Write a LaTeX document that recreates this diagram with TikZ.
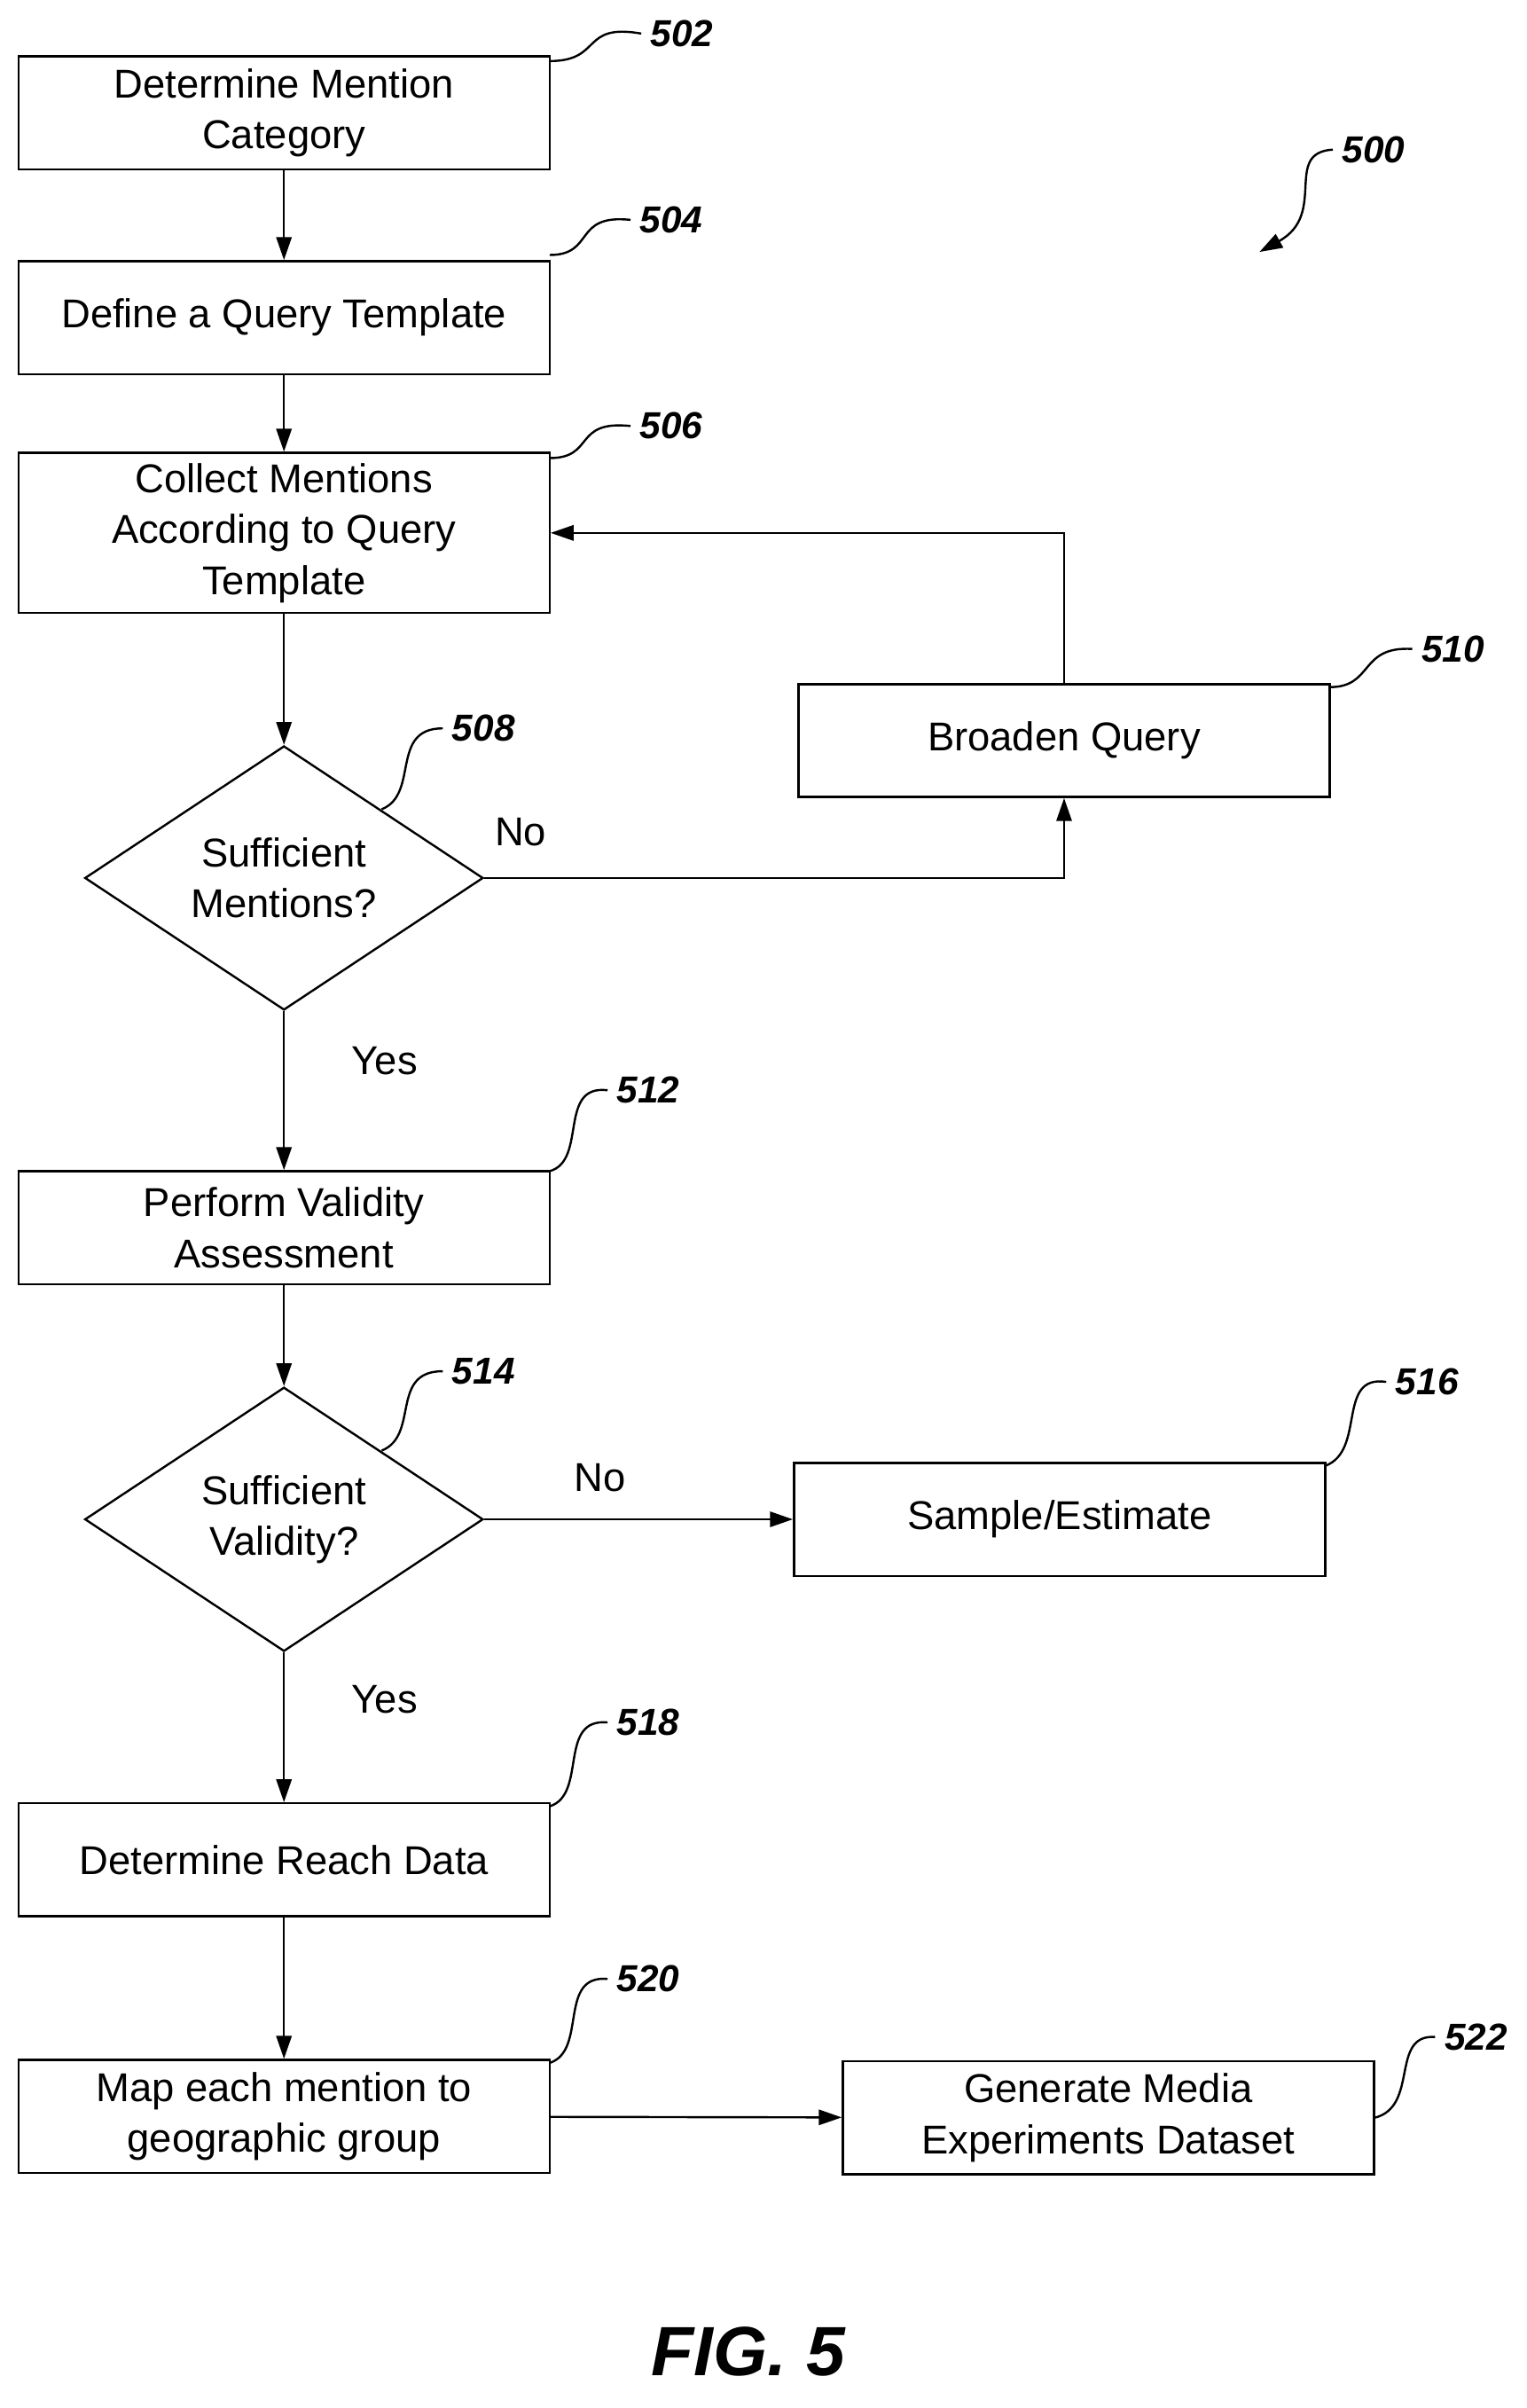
\documentclass[tikz,border=0pt]{standalone}
\usepackage{fontspec}
\setmainfont{Liberation Sans}
\usetikzlibrary{shapes.geometric,arrows.meta}

\tikzset{
  procbox/.style = {draw, thick, minimum width=6.96cm, minimum height=1.48cm, align=center, font=\fontsize{15}{19}\selectfont},
  decide/.style = {draw, thick, diamond, aspect=1.51, minimum width=5.22cm, minimum height=3.46cm, inner sep=0pt, align=center, font=\fontsize{15}{19}\selectfont},
  refnum/.style = {font=\fontsize{14}{16}\selectfont\bfseries\itshape},
  flow/.style = {thick, -{Triangle[length=3mm,width=2mm]}},
  lbl/.style = {font=\fontsize{15}{18}\selectfont}
}

\begin{document}
\begin{tikzpicture}[x=0.02cm, y=-0.02cm]
  \useasboundingbox (0,0) rectangle (1000,1577);

  \node[procbox] (s502) at (186, 74) {Determine Mention\\Category};
  \node[procbox] (s504) at (186, 208) {Define a Query Template};
  \node[procbox, minimum height=2.1cm] (s506) at (186, 349) {Collect Mentions\\According to Query\\Template};
  \node[decide] (d508) at (186, 575) {Sufficient\\Mentions?};
  \node[procbox] (s510) at (697, 485) {Broaden Query};
  \node[procbox] (s512) at (186, 804) {Perform Validity\\Assessment};
  \node[decide] (d514) at (186, 995) {Sufficient\\Validity?};
  \node[procbox] (s516) at (694, 995) {Sample/Estimate};
  \node[procbox] (s518) at (186, 1218) {Determine Reach Data};
  \node[procbox] (s520) at (186, 1386) {Map each mention to\\geographic group};
  \node[procbox] (s522) at (726, 1387) {Generate Media\\Experiments Dataset};

  % connectors
  \draw[flow] (s502) -- (s504);
  \draw[flow] (s504) -- (s506);
  \draw[flow] (s506) -- (d508);
  \draw[flow] (d508.east) -| (s510.south);
  \draw[flow] (s510.north) |- (s506.east);
  \draw[flow] (d508) -- (s512);
  \draw[flow] (s512) -- (d514);
  \draw[flow] (d514.east) -- (s516.west);
  \draw[flow] (d514) -- (s518);
  \draw[flow] (s518) -- (s520);
  \draw[flow] (s520) -- (s522);

  \node[lbl] (no1) at (341, 545) {No};
  \node[lbl] (yes1) at (252, 695) {Yes};
  \node[lbl] (no2) at (393, 968) {No};
  \node[lbl] (yes2) at (252, 1113) {Yes};

  % reference numerals
  \node[refnum, anchor=west] (r502) at (420, 22) {502};
  \node[refnum, anchor=west] (r504) at (413, 144) {504};
  \node[refnum, anchor=west] (r506) at (413, 279) {506};
  \node[refnum, anchor=west] (r508) at (290, 477) {508};
  \node[refnum, anchor=west] (r510) at (925, 425) {510};
  \node[refnum, anchor=west] (r512) at (398, 714) {512};
  \node[refnum, anchor=west] (r514) at (290, 898) {514};
  \node[refnum, anchor=west] (r516) at (908, 905) {516};
  \node[refnum, anchor=west] (r518) at (398, 1128) {518};
  \node[refnum, anchor=west] (r520) at (398, 1296) {520};
  \node[refnum, anchor=west] (r522) at (940, 1334) {522};
  \node[refnum, anchor=west] (r500) at (873, 98) {500};

  \draw[thick] (360, 40) .. controls (395, 40) and (380, 15) .. (r502.west);
  \draw[thick] (360, 167) .. controls (390, 167) and (375, 140) .. (r504.west);
  \draw[thick] (360, 300) .. controls (390, 300) and (375, 275) .. (r506.west);
  \draw[thick] (250, 530) .. controls (275, 520) and (255, 477) .. (r508.west);
  \draw[thick] (871, 450) .. controls (900, 450) and (890, 423) .. (r510.west);
  \draw[thick] (360, 767) .. controls (385, 760) and (365, 710) .. (r512.west);
  \draw[thick] (250, 950) .. controls (275, 940) and (255, 898) .. (r514.west);
  \draw[thick] (868, 960) .. controls (895, 950) and (875, 900) .. (r516.west);
  \draw[thick] (360, 1183) .. controls (385, 1175) and (365, 1125) .. (r518.west);
  \draw[thick] (360, 1351) .. controls (385, 1343) and (365, 1293) .. (r520.west);
  \draw[thick] (900, 1387) .. controls (930, 1380) and (910, 1332) .. (r522.west);
  \draw[thick, -{Triangle[length=3mm,width=2mm]}] (r500.west) .. controls (840, 100) and (870, 140) .. (825, 165);

  \node[font=\fontsize{26}{30}\selectfont\bfseries\itshape] (fig) at (490, 1540) {FIG. 5};
\end{tikzpicture}
\end{document}
